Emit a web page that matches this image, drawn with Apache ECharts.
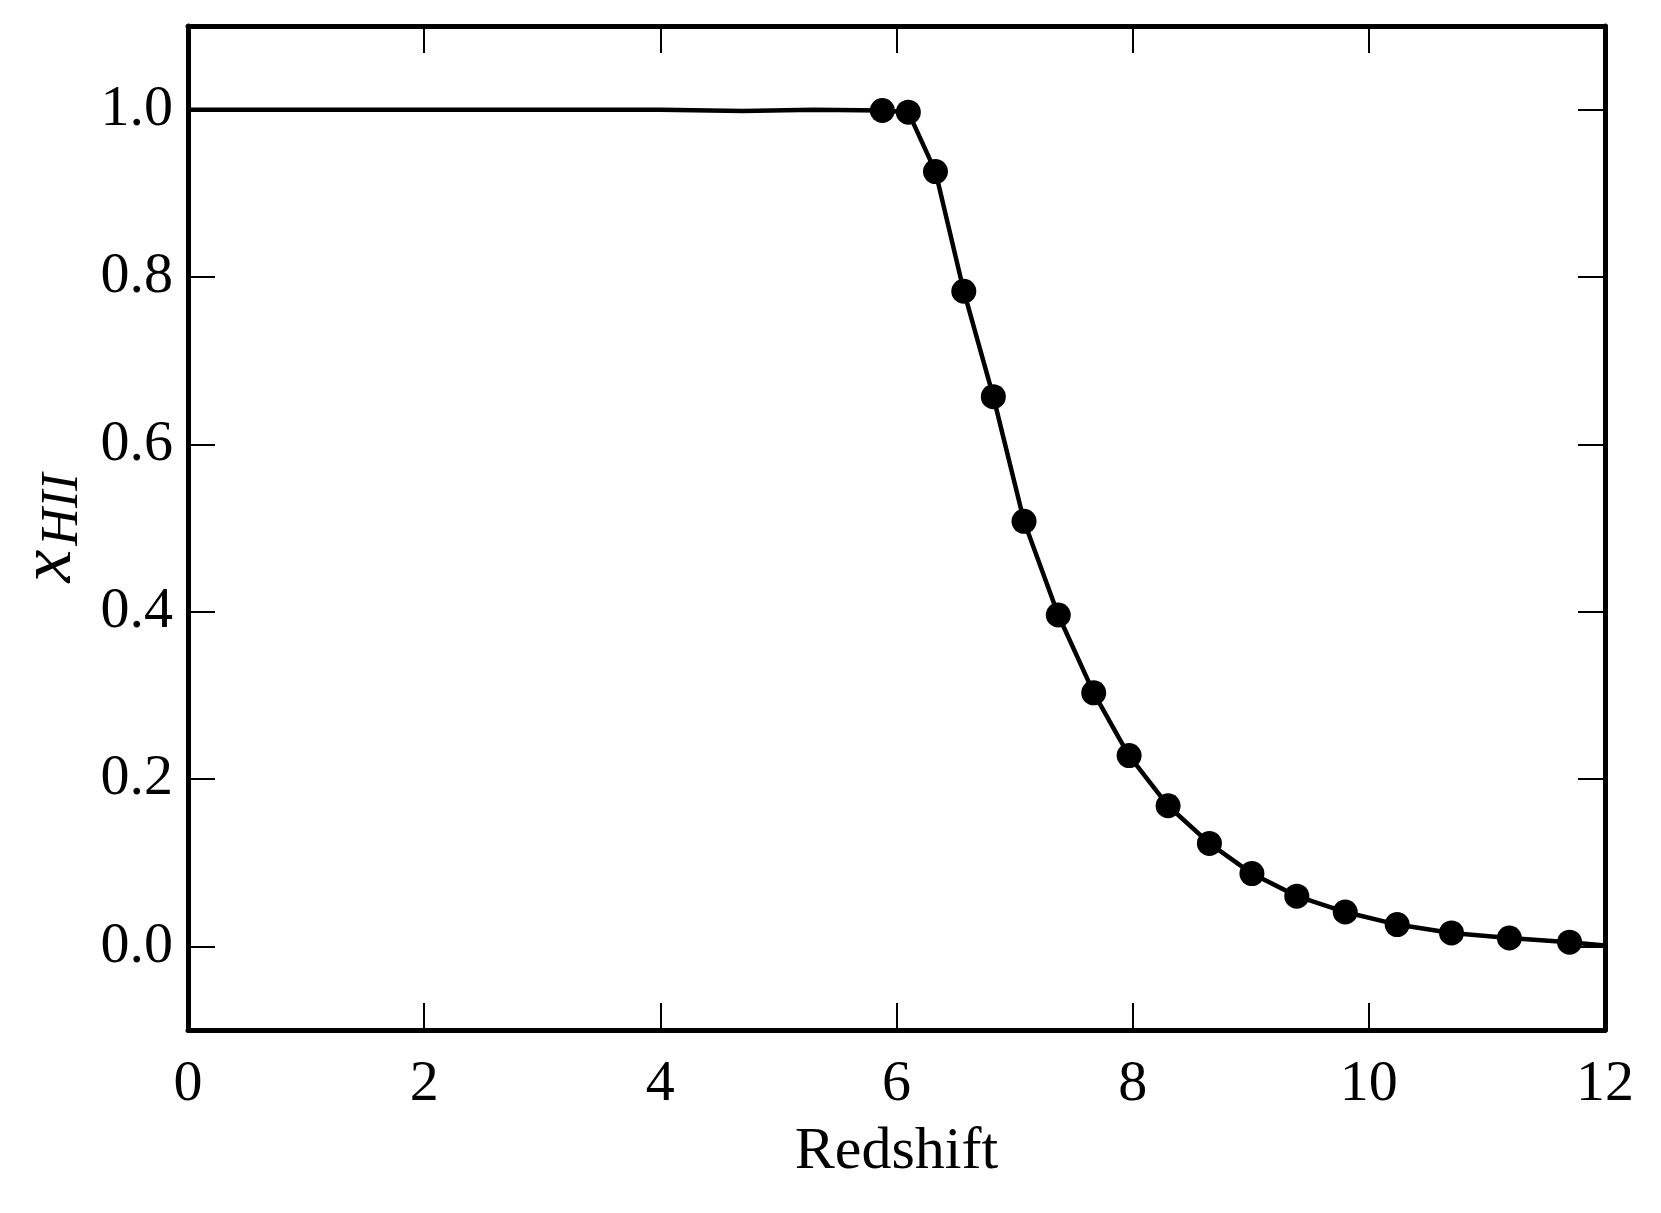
<!DOCTYPE html>
<html>
<head>
<meta charset="utf-8">
<script src="https://cdn.jsdelivr.net/npm/echarts@6/dist/echarts.min.js"></script>
<style>
  html, body { margin: 0; padding: 0; background: #fff; }
  #chart { width: 1661px; height: 1213px; }
</style>
</head>
<body>
<div id="chart"></div>
<script>
// model curve (redshift, ionized fraction)
var curveZ = [0, 2, 4, 4.7, 5.3, 5.88, 6.10, 6.33, 6.57, 6.82, 7.08, 7.37, 7.67, 7.88, 7.97, 8.30, 8.65, 9.01, 9.39, 9.80, 10.24, 10.70, 11.19, 11.70, 12];
var curveX = [1.0, 1.0, 1.0, 0.9985, 1.0, 0.999, 0.997, 0.926, 0.783, 0.657, 0.508, 0.396, 0.303, 0.250, 0.228, 0.168, 0.123, 0.087, 0.060, 0.041, 0.026, 0.016, 0.010, 0.005, 0.001];

// sampled points (markers)
var pointZ = [5.88, 6.10, 6.33, 6.57, 6.82, 7.08, 7.37, 7.67, 7.97, 8.30, 8.65, 9.01, 9.39, 9.80, 10.24, 10.70, 11.19, 11.70];
var pointX = [0.999, 0.997, 0.926, 0.783, 0.657, 0.508, 0.396, 0.303, 0.228, 0.168, 0.123, 0.087, 0.060, 0.041, 0.026, 0.016, 0.010, 0.005];

var yTicks = [0, 0.2, 0.4, 0.6, 0.8, 1.0];

var font = '"Liberation Serif", "DejaVu Serif", serif';

var chart = echarts.init(document.getElementById('chart'));

var lineData = curveZ.map(function (z, i) { return [z, curveX[i]]; });
var pointData = pointZ.map(function (z, i) { return [z, pointX[i]]; });

var tick = { show: true, inside: true, length: 27, lineStyle: { color: '#000', width: 2 } };
var axLine = { show: true, onZero: false, lineStyle: { color: '#000', width: 5 } };

var option = {
    backgroundColor: '#fff',
    animation: false,
    grid: { left: 188, right: 56, top: 26, bottom: 183 },
    xAxis: [{
        type: 'value',
        min: 0,
        max: 12,
        interval: 2,
        position: 'bottom',
        axisLine: axLine,
        axisTick: tick,
        splitLine: { show: false },
        axisLabel: { margin: 26, color: '#000', fontSize: 58, fontFamily: font },
        name: 'Redshift',
        nameLocation: 'middle',
        nameGap: 92,
        nameTextStyle: { color: '#000', fontSize: 60, fontFamily: font }
    }, {
        type: 'value',
        min: 0,
        max: 12,
        interval: 2,
        position: 'top',
        axisLine: axLine,
        axisTick: tick,
        splitLine: { show: false },
        axisLabel: { show: false }
    }],
    yAxis: [{
        type: 'value',
        min: -0.1,
        max: 1.1,
        position: 'left',
        axisLine: axLine,
        axisTick: Object.assign({}, tick, { customValues: yTicks }),
        splitLine: { show: false },
        axisLabel: {
            customValues: yTicks,
            margin: 15,
            color: '#000',
            fontSize: 58,
            fontFamily: font,
            formatter: function (v) { return v.toFixed(1); }
        },
        name: '{x|x}{s|HII}',
        nameLocation: 'middle',
        nameGap: 98,
        nameRotate: 90,
        nameTextStyle: {
            rich: {
                x: { fontSize: 74, fontStyle: 'italic', fontFamily: font, color: '#000' },
                s: { fontSize: 52, fontStyle: 'italic', fontFamily: font, color: '#000', padding: [26, 0, 0, 4] }
            }
        }
    }, {
        type: 'value',
        min: -0.1,
        max: 1.1,
        position: 'right',
        axisLine: axLine,
        axisTick: Object.assign({}, tick, { customValues: yTicks }),
        splitLine: { show: false },
        axisLabel: { show: false }
    }],
    series: [{
        type: 'line',
        data: lineData,
        showSymbol: false,
        symbol: 'none',
        lineStyle: { color: '#000', width: 4.5 },
        z: 2
    }, {
        type: 'scatter',
        data: pointData,
        symbol: 'circle',
        symbolSize: 25,
        itemStyle: { color: '#000', opacity: 1 },
        z: 3
    }]
};

chart.setOption(option);
</script>
</body>
</html>
